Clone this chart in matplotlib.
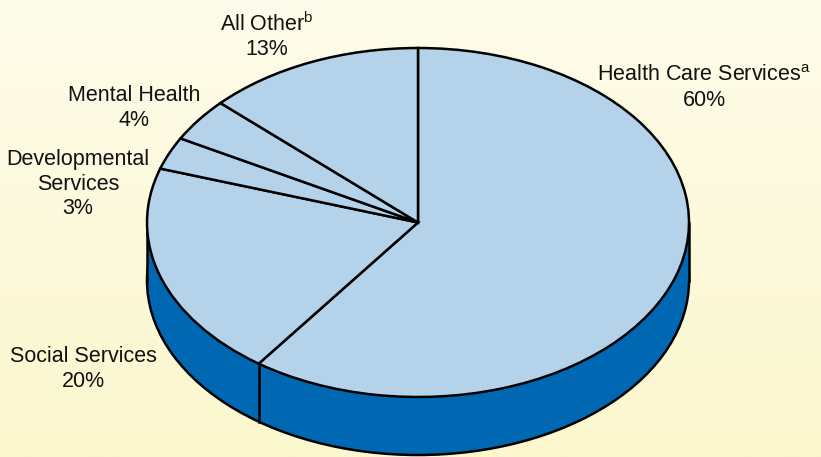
import numpy as np
import matplotlib
matplotlib.use("Agg")
import matplotlib.pyplot as plt
from matplotlib.patches import Ellipse, Rectangle

plt.rcParams['font.family'] = ['Liberation Sans', 'DejaVu Sans']
plt.rcParams['mathtext.fontset'] = 'custom'
plt.rcParams['mathtext.rm'] = 'Liberation Sans'
plt.rcParams['mathtext.it'] = 'Liberation Sans'

categories = ["Health Care Services", "Social Services", "Developmental\nServices",
              "Mental Health", "All Other"]
values = [60, 20, 3, 4, 13]
superscripts = ["a", "", "", "", "b"]

top_color = "#B4D3EA"
side_color = "#0068B3"
edge = "black"
lw = 1.8

W, H = 821, 457
fig = plt.figure(figsize=(W / 100, H / 100), dpi=100)
ax = fig.add_axes([0, 0, 1, 1])

# ellipse geometry in pixels
cx, cy = 418, 222.5
rx, ry = 271, 174.5
depth_px = 58
d = depth_px / ry

xlim = (-cx / rx, (W - cx) / rx)
ylim = (-(H - cy) / ry, cy / ry)

# background gradient
grad = np.linspace(0, 1, 256)[:, None]
c_top = np.array([254, 252, 234]) / 255
c_bot = np.array([251, 247, 206]) / 255
img = c_top[None, None, :] * (1 - grad[..., None]) + c_bot[None, None, :] * grad[..., None]
img = np.repeat(img, 2, axis=1)
ax.imshow(img, extent=[xlim[0], xlim[1], ylim[0], ylim[1]], aspect='auto', zorder=0)

# side (depth)
ax.add_patch(Ellipse((0, -d), 2, 2, facecolor=side_color, edgecolor=edge, lw=lw, zorder=1))
ax.add_patch(Rectangle((-1, -d), 2, d, facecolor=side_color, edgecolor='none', zorder=2))
ax.plot([-1, -1], [0, -d], color=edge, lw=lw, zorder=3)
ax.plot([1, 1], [0, -d], color=edge, lw=lw, zorder=3)
# vertical edges of slice boundaries visible on the front side
cum = np.cumsum([0] + values) / sum(values)
for f in cum[1:-1]:
    ang = np.deg2rad(90 - 360 * f)
    x, y = np.cos(ang), np.sin(ang)
    if y < 0:
        ax.plot([x, x], [y, y - d], color=edge, lw=lw, zorder=3)

# top
wedges, _ = ax.pie(values, startangle=90, counterclock=False, radius=1, center=(0, 0),
                   colors=[top_color] * len(values),
                   wedgeprops=dict(edgecolor=edge, linewidth=lw, joinstyle='miter'),
                   frame=True)
for w in wedges:
    w.set_zorder(4)

ax.set_aspect('auto')
ax.set_xlim(*xlim)
ax.set_ylim(*ylim)
ax.axis('off')

# labels (pixel positions of label centers)
label_pos = [(704, 88), (83, 369), (78, 184), (134, 108), (267, 36)]
for name, v, sup, (px, py) in zip(categories, values, superscripts, label_pos):
    first = name
    if sup:
        first = name + r"$^{\mathrm{" + sup + "}}$"
    txt = f"{first}\n{v}%"
    x = (px - cx) / rx
    y = (cy - py) / ry
    ax.text(x, y, txt, ha='center', va='center', fontsize=15.5, linespacing=1.22,
            color='#111111', zorder=5, multialignment='center')

fig.savefig("out.png", dpi=100)
